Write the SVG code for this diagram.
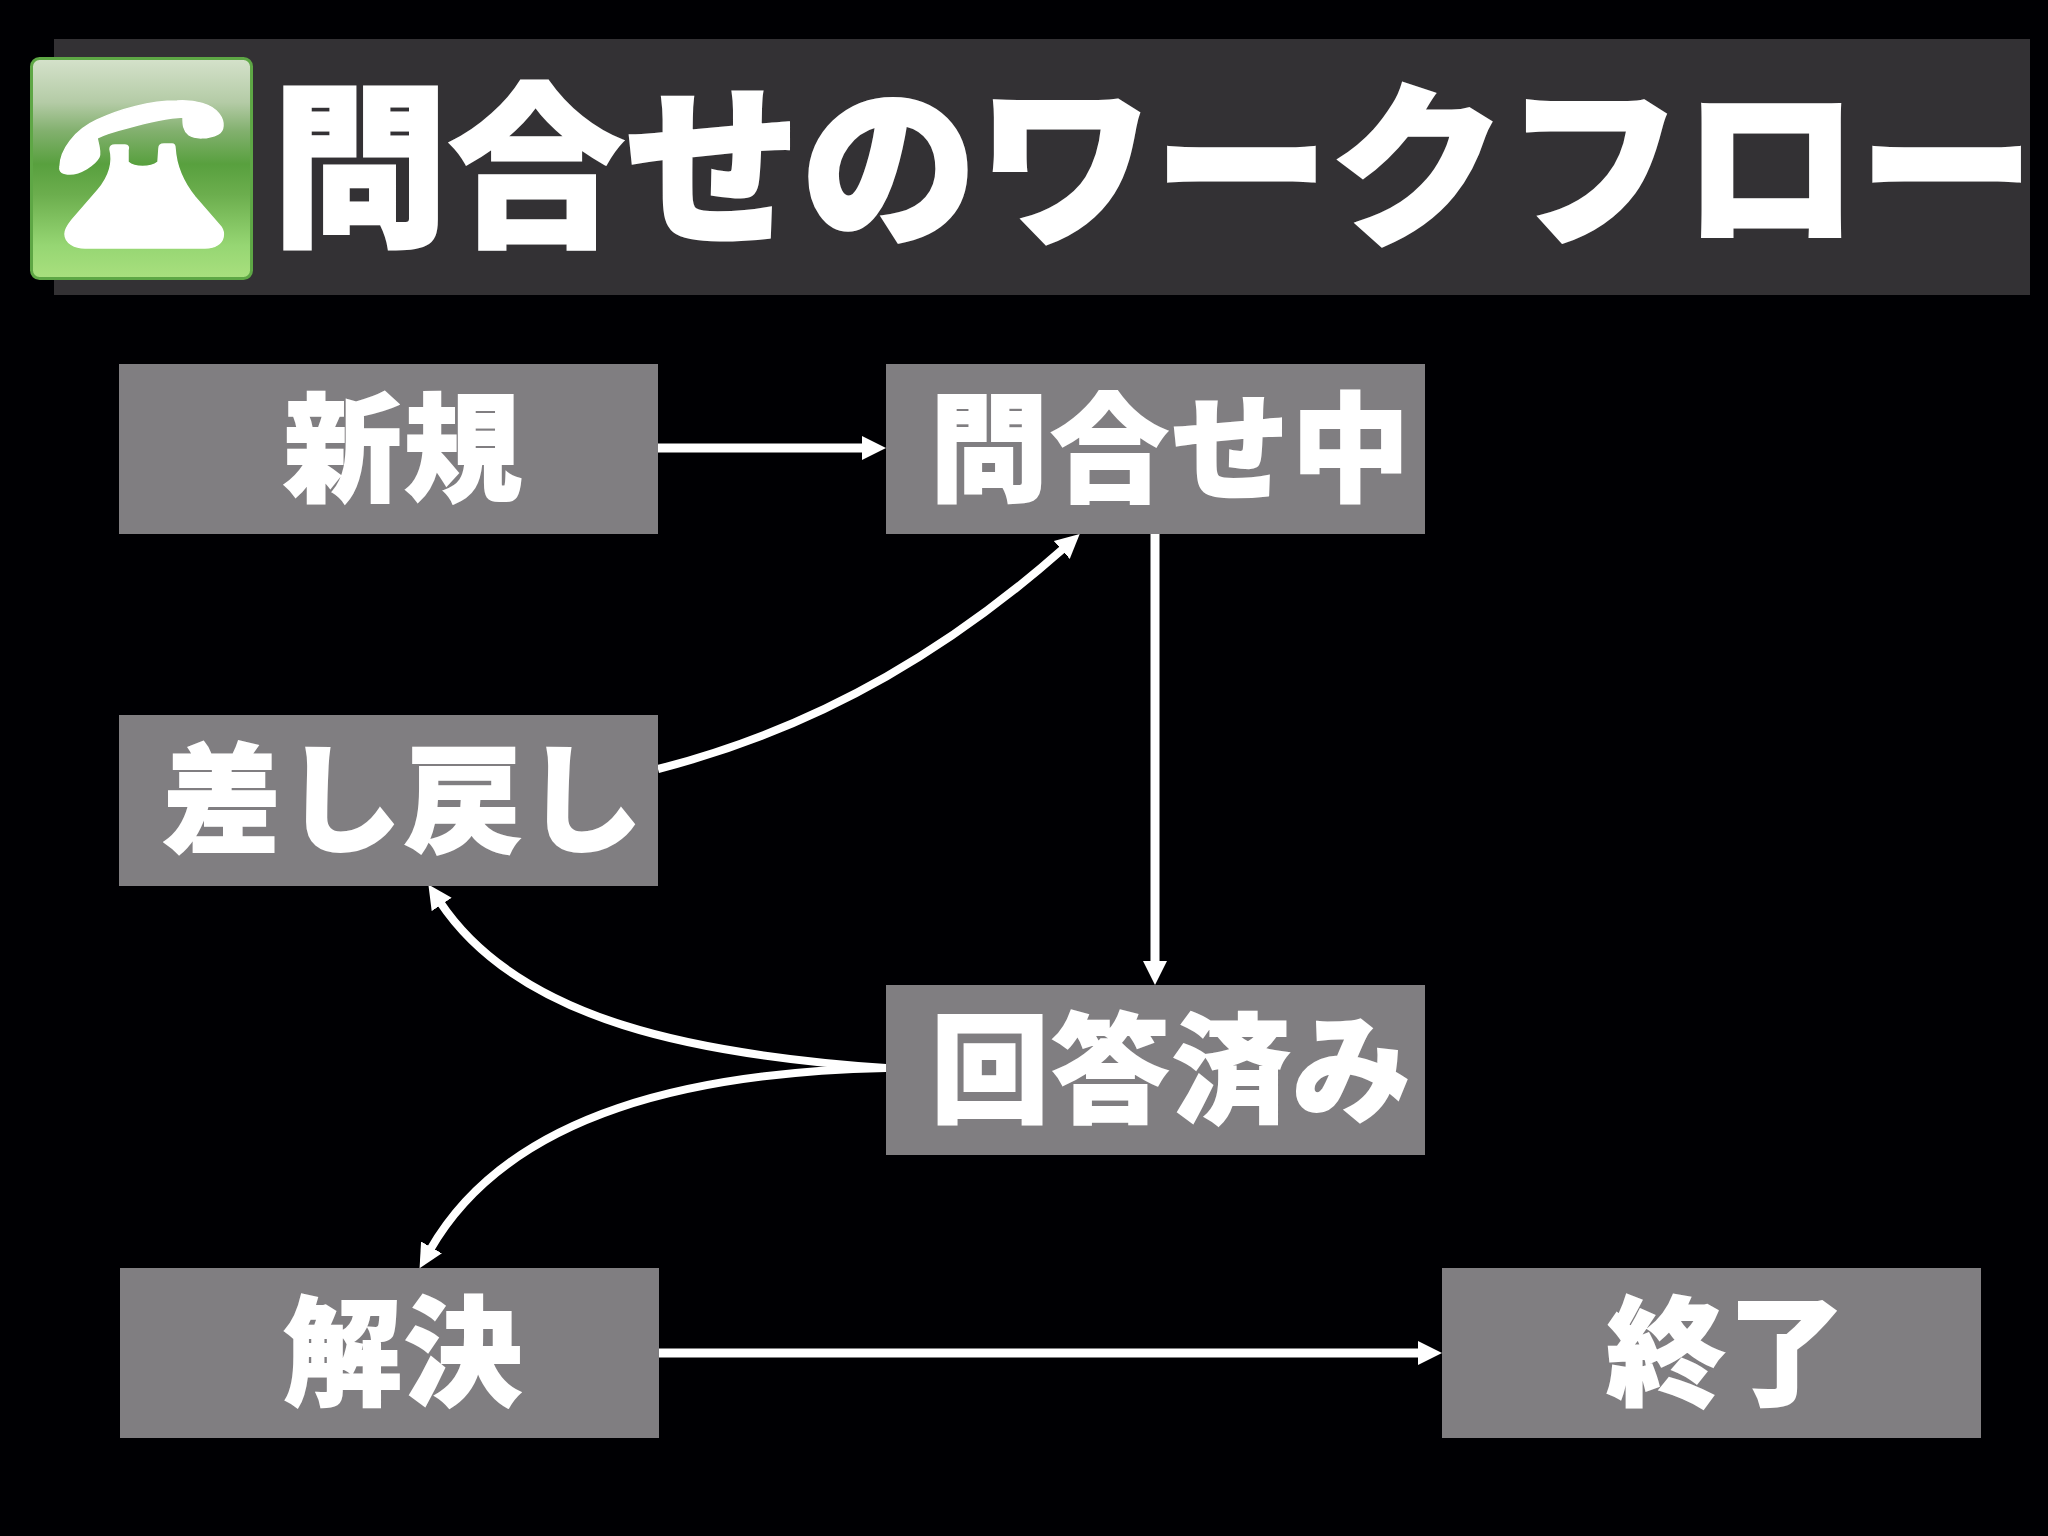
<svg xmlns="http://www.w3.org/2000/svg" width="2048" height="1536" viewBox="0 0 2048 1536">
<style>
.box{fill:#807e81}
.lbl{font-family:"Noto Sans CJK JP","Noto Sans",sans-serif;font-weight:900;fill:#fff;stroke:#fff;stroke-width:2;font-size:118px;letter-spacing:2.500px;text-anchor:middle}
.ttl{font-family:"Noto Sans CJK JP","Noto Sans",sans-serif;font-weight:900;fill:#fff;stroke:#fff;stroke-width:3;font-size:176px;letter-spacing:.3px}
.c{fill:none;stroke:#fff;stroke-width:9;marker-end:url(#arr)}
.cv{stroke-width:8}
</style>
<defs>
<marker id="arr" markerUnits="userSpaceOnUse" markerWidth="26" markerHeight="26" refX="3" refY="12.5" orient="auto" viewBox="0 0 26 25">
<path d="M0 0.5L24 12.5L0 24.5Z" fill="#fff"/>
</marker>
<linearGradient id="g" x1="0" y1="0" x2="0" y2="1">
<stop offset="0" stop-color="#d5e2cb"/>
<stop offset="0.2" stop-color="#b4cba6"/>
<stop offset="0.33" stop-color="#82b06e"/>
<stop offset="0.48" stop-color="#58a03e"/>
<stop offset="0.62" stop-color="#6cae4e"/>
<stop offset="0.85" stop-color="#96d673"/>
<stop offset="1" stop-color="#a9e07e"/>
</linearGradient>
</defs>
<rect width="2048" height="1536" fill="#000003"/>
<g id="title">
<rect x="54" y="39" width="1976" height="256" fill="#333134"/>
<text class="ttl" x="272" y="232">問合せのワークフロー</text>
</g>
<g id="icon">
<rect x="31.500" y="58.500" width="220" height="220" rx="8" fill="url(#g)" stroke="#5ea745" stroke-width="3"/>
<path fill="#fff" stroke="#fff" stroke-width="1.500" d="M60 167C60 150 75 130 97 120C120 109 150 101 177 101C195 100 212 104 219 114C225 122 224 131 218 134C208 139 195 139 189 135C183 130 183 124 183 117C165 118 145 123 127 128C115 131 105 134 97 138C99 146 101 153 99 157C95 165 80 174 70 174C63 174 59 172 60 167Z"/>
<path fill="#fff" stroke="#fff" stroke-width="1.500" d="M110 149C110 146 112 145 115 145H125C128 145 129 147 128 150L128 162C135 168 150 168 158 162L159 148C159 145 161 144 164 144H172C175 144 175 146 175 148C176 165 183 182 195 197L221 227C225 233 224 241 217 245C213 248 209 248 205 248H85C75 248 65 243 65 234C65 229 68 225 72 220L98 190C108 178 114 165 110 149Z"/>
</g>
<g id="connectors">
<path class="c" d="M658 448H865"/>
<path class="c" d="M1155 534V964"/>
<path class="c" d="M659 1353H1421"/>
<path class="c cv" d="M658 769C830 725 960 640 1064 548"/>
<path class="c cv" d="M886 1068C700 1055 520 1022 440 902"/>
<path class="c cv" d="M886 1068C700 1072 510 1110 430 1250"/>
</g>
<g id="n-new"><rect class="box" x="119" y="364" width="539" height="170"/><text class="lbl" x="404" y="492">新規</text></g>
<g id="n-asking"><rect class="box" x="886" y="364" width="539" height="170"/><text class="lbl" x="1171" y="492">問合せ中</text></g>
<g id="n-back"><rect class="box" x="119" y="715" width="539" height="171"/><text class="lbl" x="404" y="843">差し戻し</text></g>
<g id="n-answered"><rect class="box" x="886" y="985" width="539" height="170"/><text class="lbl" x="1172" y="1113">回答済み</text></g>
<g id="n-solved"><rect class="box" x="120" y="1268" width="539" height="170"/><text class="lbl" x="404" y="1396">解決</text></g>
<g id="n-end"><rect class="box" x="1442" y="1268" width="539" height="170"/><text class="lbl" x="1727" y="1396">終了</text></g>
</svg>
